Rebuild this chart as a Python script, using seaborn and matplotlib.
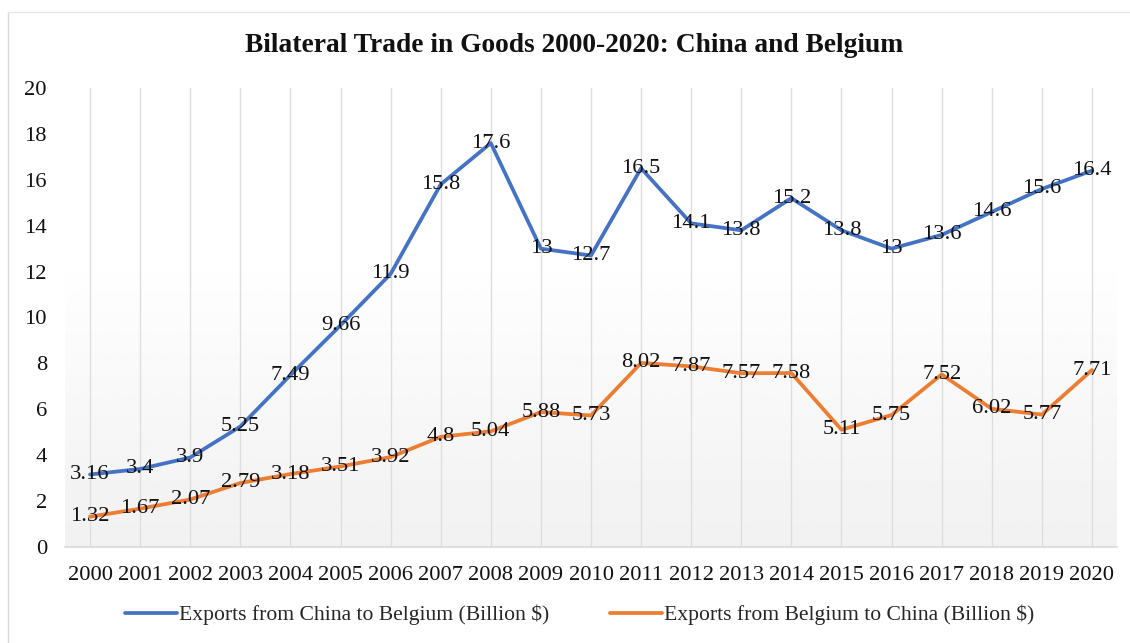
import numpy as np
import pandas as pd
import matplotlib
matplotlib.use("Agg")
import matplotlib.pyplot as plt
from matplotlib.lines import Line2D
import seaborn as sns

years = [str(y) for y in range(2000, 2021)]
china_to_belgium = [3.16, 3.4, 3.9, 5.25, 7.49, 9.66, 11.9, 15.8, 17.6, 13, 12.7,
                    16.5, 14.1, 13.8, 15.2, 13.8, 13, 13.6, 14.6, 15.6, 16.4]
belgium_to_china = [1.32, 1.67, 2.07, 2.79, 3.18, 3.51, 3.92, 4.8, 5.04, 5.88, 5.73,
                    8.02, 7.87, 7.57, 7.58, 5.11, 5.75, 7.52, 6.02, 5.77, 7.71]
series_names = ["Exports from China to Belgium (Billion $)",
                "Exports from Belgium to China (Billion $)"]
y_ticks = list(range(0, 21, 2))

sns.set_theme(style="white")
plt.rcParams["font.family"] = ["Liberation Serif", "DejaVu Serif"]

BLUE = "#4472C4"
ORANGE = "#ED7D31"
FS = 16.2

df = pd.DataFrame({
    "pos": list(range(len(years))) * 2,
    "value": china_to_belgium + belgium_to_china,
    "series": [series_names[0]] * len(years) + [series_names[1]] * len(years),
})

fig = plt.figure(figsize=(11.3, 6.43), dpi=100)
fig.patch.set_facecolor("white")
ax = fig.add_axes([65 / 1130, 1 - 547 / 643, (1117 - 65) / 1130, (547 - 88) / 643])

# soft vertical gradient behind the plot area
grad = np.concatenate([np.ones(90), np.linspace(1.0, 0.945, 166)]).reshape(-1, 1)
ax.imshow(grad, extent=[-0.5, 20.5, 0, 20], aspect="auto", cmap="gray",
          vmin=0, vmax=1, zorder=0, origin="upper")

sns.lineplot(data=df, x="pos", y="value", hue="series",
             palette=[BLUE, ORANGE], linewidth=2.7, ax=ax, legend=False,
             zorder=3)

ax.set_xlim(-0.5, 20.5)
ax.set_ylim(0, 20)
ax.set_xticks(range(len(years)))
ax.set_xticklabels(years)
ax.set_yticks(y_ticks)
ax.set_yticklabels([str(t) for t in y_ticks])
ax.tick_params(axis="both", length=0, labelsize=FS, colors="#111111")
ax.tick_params(axis="x", pad=14)
ax.tick_params(axis="y", pad=13)
ax.set_xlabel("")
ax.set_ylabel("")

for x in range(len(years)):
    ax.axvline(x, color="#dedede", lw=1.0, zorder=1)
for s in ["left", "right", "top"]:
    ax.spines[s].set_visible(False)
ax.spines["bottom"].set_color("#d9d9d9")
ax.spines["bottom"].set_linewidth(1.2)
ax.set_facecolor("white")

# value labels, centred on each point
for vals in (china_to_belgium, belgium_to_china):
    for i, v in enumerate(vals):
        ax.text(i, v, f"{v:g}", ha="center", va="center", fontsize=FS,
                color="#111111", zorder=4)

fig.text(574 / 1130, 1 - 46 / 643,
         "Bilateral Trade in Goods 2000-2020: China and Belgium",
         ha="center", va="center", fontsize=19.8, fontweight="bold",
         color="#111111")

handles = [Line2D([], [], color=BLUE, lw=2.7), Line2D([], [], color=ORANGE, lw=2.7)]
fig.legend(handles, series_names, loc="center", bbox_to_anchor=(580 / 1130, 1 - 615 / 643),
           ncol=2, frameon=False, fontsize=15.6, handlelength=2.4, handletextpad=0.1,
           columnspacing=2.8)

# faint outer frame of the chart area
fig.add_artist(Line2D([8 / 1130, 8 / 1130], [0, 1 - 12 / 643], color="#d9d9d9",
                      lw=1, transform=fig.transFigure))
fig.add_artist(Line2D([8 / 1130, 1], [1 - 12 / 643, 1 - 12 / 643], color="#e6e6e6",
                      lw=1, transform=fig.transFigure))

fig.savefig("out.png", dpi=100, facecolor="white")
